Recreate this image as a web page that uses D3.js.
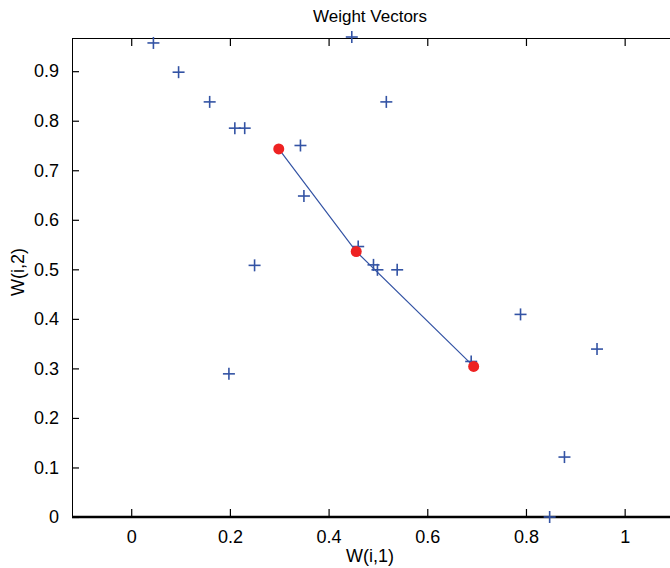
<!DOCTYPE html>
<html>
<head>
<meta charset="utf-8">
<script src="https://cdn.jsdelivr.net/npm/d3@7"></script>
<style>
  html, body { margin: 0; padding: 0; background: #fff; }
  svg { display: block; }
  text { font-family: "Liberation Sans", Arial, sans-serif; fill: #000; }
</style>
</head>
<body>
<svg id="chart" width="670" height="568"></svg>
<script>
// ---- data ----
const title = "Weight Vectors";
const xLabel = "W(i,1)";
const yLabel = "W(i,2)";
const xTicks = [0, 0.2, 0.4, 0.6, 0.8, 1];
const xTickLabels = ["0", "0.2", "0.4", "0.6", "0.8", "1"];
const yTicks = [0, 0.1, 0.2, 0.3, 0.4, 0.5, 0.6, 0.7, 0.8, 0.9];
const yTickLabels = ["0", "0.1", "0.2", "0.3", "0.4", "0.5", "0.6", "0.7", "0.8", "0.9"];
// input vectors (blue +)
const inputX = [0.045, 0.096, 0.159, 0.210, 0.230, 0.447, 0.517, 0.343, 0.350, 0.250, 0.198, 0.460, 0.491, 0.499, 0.539, 0.689, 0.789, 0.944, 0.878, 0.848];
const inputY = [0.957, 0.898, 0.838, 0.785, 0.785, 0.969, 0.838, 0.750, 0.648, 0.508, 0.289, 0.546, 0.509, 0.499, 0.499, 0.314, 0.409, 0.339, 0.121, 0.000];
// weight vectors (red dots, connected)
const weightX = [0.299, 0.456, 0.694];
const weightY = [0.743, 0.536, 0.304];

(function () {
// ---- layout ----
const svg = d3.select("#chart");
const mLeft = 72, mTop = 38, mBottom = 517, mRight = 674;
const x = d3.scaleLinear().domain([-0.12, 1.1]).range([mLeft, mRight]);
const y = d3.scaleLinear().domain([0, 0.967]).range([mBottom, mTop]);

const blue = "#3353a4";
const red = "#ee2222";
const font = "Liberation Sans, Arial, sans-serif";

// frame
svg.append("line").attr("x1", mLeft).attr("x2", mRight).attr("y1", mTop + 0.5).attr("y2", mTop + 0.5)
  .attr("stroke", "#000").attr("stroke-width", 1);
svg.append("line").attr("x1", mLeft + 0.5).attr("x2", mLeft + 0.5).attr("y1", mTop).attr("y2", mBottom)
  .attr("stroke", "#000").attr("stroke-width", 1);

// bottom axis (ticks inward)
const xAxis = d3.axisBottom(x).tickValues(xTicks).tickSize(-8).tickPadding(13)
  .tickFormat((d, i) => xTickLabels[i]);
const gx = svg.append("g").attr("transform", `translate(0,${mBottom})`).call(xAxis);
gx.select(".domain").remove();
gx.selectAll(".tick line").attr("stroke", "#000").attr("stroke-width", 1.2);
gx.selectAll(".tick text").attr("font-size", 18).attr("font-family", font);
svg.append("line").attr("x1", mLeft).attr("x2", mRight).attr("y1", mBottom).attr("y2", mBottom)
  .attr("stroke", "#000").attr("stroke-width", 2.5);

// top ticks
const xTop = d3.axisTop(x).tickValues(xTicks).tickSize(-8).tickFormat("");
const gt = svg.append("g").attr("transform", `translate(0,${mTop})`).call(xTop);
gt.select(".domain").remove();
gt.selectAll(".tick line").attr("stroke", "#000").attr("stroke-width", 1.2);

// left axis
const yAxis = d3.axisLeft(y).tickValues(yTicks).tickSize(-7).tickPadding(13)
  .tickFormat((d, i) => yTickLabels[i]);
const gy = svg.append("g").attr("transform", `translate(${mLeft},0)`).call(yAxis);
gy.select(".domain").remove();
gy.selectAll(".tick line").attr("stroke", "#000").attr("stroke-width", 1.2);
gy.selectAll(".tick text").attr("font-size", 18).attr("font-family", font);

// title and labels
const cx = (mLeft + mRight) / 2;
svg.append("text").attr("x", cx - 3).attr("y", 22).attr("text-anchor", "middle")
  .attr("font-size", 17).text(title);
svg.append("text").attr("x", cx - 3).attr("y", 562).attr("text-anchor", "middle")
  .attr("font-size", 18).text(xLabel);
svg.append("text").attr("transform", `translate(24,272) rotate(-90)`)
  .attr("text-anchor", "middle").attr("font-size", 18).text(yLabel);

// input vectors
const pts = inputX.map((v, i) => [v, inputY[i]]);
const arm = 6;
const plus = svg.append("g").selectAll("g").data(pts).join("g")
  .attr("transform", d => `translate(${x(d[0])},${y(d[1])})`);
plus.append("line").attr("x1", -arm).attr("x2", arm).attr("y1", 0).attr("y2", 0)
  .attr("stroke", blue).attr("stroke-width", 1.6);
plus.append("line").attr("x1", 0).attr("x2", 0).attr("y1", -arm).attr("y2", arm)
  .attr("stroke", blue).attr("stroke-width", 1.6);

// weight line
const wpts = weightX.map((v, i) => [v, weightY[i]]);
svg.append("path").datum(wpts)
  .attr("d", d3.line().x(d => x(d[0])).y(d => y(d[1])))
  .attr("fill", "none").attr("stroke", blue).attr("stroke-width", 1.2);

// weight dots
svg.append("g").selectAll("circle").data(wpts).join("circle")
  .attr("cx", d => x(d[0])).attr("cy", d => y(d[1])).attr("r", 5.5)
  .attr("fill", red);
})();
</script>
</body>
</html>
